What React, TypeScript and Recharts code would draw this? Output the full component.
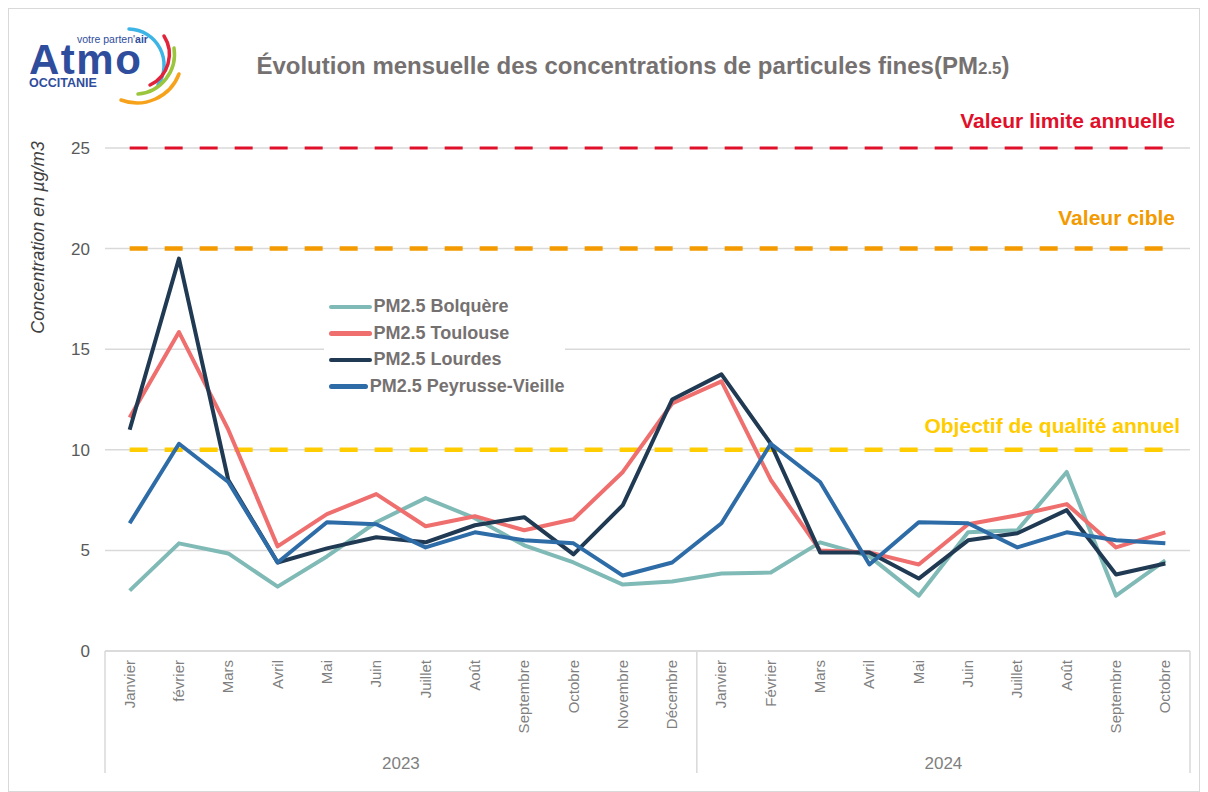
import { LineChart, Line, XAxis, YAxis, CartesianGrid, Legend, ReferenceLine } from "recharts";

const MONTHS = [
  "Janvier", "février", "Mars", "Avril", "Mai", "Juin", "Juillet", "Août",
  "Septembre", "Octobre", "Novembre", "Décembre",
  "Janvier", "Février", "Mars", "Avril", "Mai", "Juin", "Juillet", "Août",
  "Septembre", "Octobre",
];
const YEARS = [
  "2023", "2023", "2023", "2023", "2023", "2023", "2023", "2023", "2023", "2023", "2023", "2023",
  "2024", "2024", "2024", "2024", "2024", "2024", "2024", "2024", "2024", "2024",
];

const BOLQUERE = [3.0, 5.35, 4.85, 3.2, 4.7, 6.4, 7.6, 6.6, 5.25, 4.4, 3.3, 3.45, 3.85, 3.9, 5.4, 4.7, 2.75, 5.9, 6.0, 8.9, 2.75, 4.5];
const TOULOUSE = [11.6, 15.85, 11.0, 5.2, 6.8, 7.8, 6.2, 6.7, 6.0, 6.55, 8.9, 12.3, 13.4, 8.5, 5.0, 4.9, 4.3, 6.3, 6.75, 7.3, 5.15, 5.9];
const LOURDES = [11.0, 19.5, 8.5, 4.4, 5.1, 5.65, 5.4, 6.25, 6.65, 4.8, 7.25, 12.5, 13.75, 10.3, 4.9, 4.9, 3.6, 5.5, 5.85, 7.0, 3.8, 4.35];
const PEYRUSSE = [6.35, 10.3, 8.4, 4.4, 6.4, 6.3, 5.15, 5.9, 5.5, 5.35, 3.75, 4.4, 6.35, 10.3, 8.4, 4.3, 6.4, 6.35, 5.15, 5.9, 5.5, 5.35];

const LIMIT_VALUE = 25;
const TARGET_VALUE = 20;
const QUALITY_OBJECTIVE = 10;
const Y_TICKS = [0, 5, 10, 15, 20, 25];

const SERIES = [
  { key: "bolquere", name: "PM2.5 Bolquère", color: "#80bab6" },
  { key: "toulouse", name: "PM2.5 Toulouse", color: "#ef6e6e" },
  { key: "lourdes", name: "PM2.5 Lourdes", color: "#203a53" },
  { key: "peyrusse", name: "PM2.5 Peyrusse-Vieille", color: "#2e6ca7" },
];

const data = MONTHS.map((m, i) => ({
  month: m,
  year: YEARS[i],
  bolquere: BOLQUERE[i],
  toulouse: TOULOUSE[i],
  lourdes: LOURDES[i],
  peyrusse: PEYRUSSE[i],
  limit: LIMIT_VALUE,
  target: TARGET_VALUE,
  objective: QUALITY_OBJECTIVE,
}));

const NARROW = "'Liberation Sans Narrow', 'Arial Narrow', 'Liberation Sans', Arial, sans-serif";
const SANS = "'Liberation Sans', Arial, sans-serif";
const GREY = "#767171";
const GRID = "#d9d9d9";

const W = 1192;
const H = 784;
const PLOT_LEFT = 97;
const PLOT_RIGHT = 1182;
const PLOT_BOTTOM = 643;
const BAND = (PLOT_RIGHT - PLOT_LEFT) / MONTHS.length;

function MonthTick(props: any) {
  const { x, payload, index } = props;
  const i = index;
  const parts: any[] = [];
  parts.push(
    <text
      key="m"
      transform={`translate(${x},${PLOT_BOTTOM + 9}) rotate(-90)`}
      textAnchor="end"
      dy={5}
      fontSize={15}
      fontFamily={SANS}
      fill="#7f7f7f"
    >
      {payload.value}
    </text>
  );
  if (i === 0 || i === 12) {
    parts.push(<line key="l" x1={x - BAND / 2} x2={x - BAND / 2} y1={PLOT_BOTTOM} y2={PLOT_BOTTOM + 122} stroke={GRID} strokeWidth={1.5} />);
  }
  if (i === MONTHS.length - 1) {
    parts.push(<line key="r" x1={x + BAND / 2} x2={x + BAND / 2} y1={PLOT_BOTTOM} y2={PLOT_BOTTOM + 122} stroke={GRID} strokeWidth={1.5} />);
  }
  if (i === 5 || i === 16) {
    parts.push(
      <text key="y" x={x + BAND / 2} y={PLOT_BOTTOM + 118} textAnchor="middle" fontSize={17} fontFamily={NARROW} fill="#7f7f7f">
        {YEARS[i]}
      </text>
    );
  }
  return <g>{parts}</g>;
}

const thresholdLabel = (text: string, color: string, dx: number, dy: number) => (props: any) => {
  const vb = props.viewBox || {};
  return (
    <text x={vb.x + vb.width - dx} y={vb.y - dy} textAnchor="end" fontSize={21} fontWeight="bold" fontFamily={NARROW} fill={color}>
      {text}
    </text>
  );
};

function LegendBox() {
  return (
    <div style={{ background: "#fff", padding: "4px 0 4px 5px" }}>
      {SERIES.map((s) => (
        <div key={s.key} style={{ display: "flex", alignItems: "center", height: 26.6 }}>
          <div style={{ width: 43, height: 4.5, borderRadius: 3, background: s.color }} />
          <span style={{ marginLeft: 2, fontFamily: NARROW, fontWeight: "bold", fontSize: 18, color: GREY, whiteSpace: "nowrap" }}>
            {s.name}
          </span>
        </div>
      ))}
    </div>
  );
}

function Logo() {
  return (
    <g>
      <text x={69} y={35} fontSize={10.5} fontFamily={SANS} fill="#2f4d9d">
        votre parten'<tspan fontWeight="bold">air</tspan>
      </text>
      <text x={21} y={66} fontSize={42} fontWeight="bold" fontFamily={SANS} fill="#2f4d9d" letterSpacing={1.5}>
        Atmo
      </text>
      <text x={21} y={78.5} fontSize={12.5} fontWeight="bold" fontFamily={SANS} fill="#2f4d9d">
        OCCITANIE
      </text>
      <path d="M121,21 A36,36 0 0 1 150,77" fill="none" stroke="#3cb4e5" strokeWidth={3.5} strokeLinecap="round" />
      <path d="M156,28 A34,34 0 0 1 142,77" fill="none" stroke="#e2243b" strokeWidth={3.5} strokeLinecap="round" />
      <path d="M166,40 A40,40 0 0 1 130,86" fill="none" stroke="#9bc53d" strokeWidth={3.5} strokeLinecap="round" />
      <path d="M171,66 A45,45 0 0 1 113,92" fill="none" stroke="#f7a21b" strokeWidth={3.5} strokeLinecap="round" />
    </g>
  );
}

export default function App() {
  return (
    <div style={{ position: "relative", width: W, height: H, border: `1.5px solid ${GRID}`, boxSizing: "border-box", background: "#fff" }}>
      <div style={{ position: "absolute", left: -1.5, top: -1.5 }}>
        <LineChart width={W} height={H - 2} data={data} margin={{ top: 140, right: W - PLOT_RIGHT, bottom: 9, left: 47 }}>
          <CartesianGrid vertical={false} stroke={GRID} strokeWidth={1.5} />
          <XAxis
            dataKey="month"
            interval={0}
            height={130}
            tickLine={false}
            axisLine={{ stroke: GRID, strokeWidth: 1.5 }}
            padding={{ left: BAND / 2, right: BAND / 2 }}
            tick={<MonthTick />}
          />
          <YAxis
            width={50}
            domain={[0, 25]}
            ticks={Y_TICKS}
            axisLine={false}
            tickLine={false}
            tickMargin={9}
            tick={{ fill: "#595959", fontSize: 17, fontFamily: SANS }}
          />
          <ReferenceLine y={LIMIT_VALUE} stroke="none" label={thresholdLabel("Valeur limite annuelle", "#e0102a", 15, 20)} />
          <ReferenceLine y={TARGET_VALUE} stroke="none" label={thresholdLabel("Valeur cible", "#f29a00", 15, 24)} />
          <ReferenceLine y={QUALITY_OBJECTIVE} stroke="none" label={thresholdLabel("Objectif de qualité annuel", "#ffcc00", 10, 17)} />
          <Line dataKey="limit" stroke="#e0102a" strokeWidth={3} strokeDasharray="18 17" dot={false} legendType="none" isAnimationActive={false} />
          <Line dataKey="target" stroke="#f29a00" strokeWidth={4.5} strokeDasharray="18 17" dot={false} legendType="none" isAnimationActive={false} />
          <Line dataKey="objective" stroke="#ffcc00" strokeWidth={4.5} strokeDasharray="18 17" dot={false} legendType="none" isAnimationActive={false} />
          {SERIES.map((s) => (
            <Line
              key={s.key}
              dataKey={s.key}
              name={s.name}
              stroke={s.color}
              strokeWidth={4}
              strokeLinejoin="round"
              dot={false}
              isAnimationActive={false}
            />
          ))}
          <Legend
            layout="vertical"
            align="center"
            verticalAlign="middle"
            content={<LegendBox />}
            wrapperStyle={{ position: "absolute", left: 316, top: 282, width: 241, bottom: "auto", right: "auto" }}
          />
        </LineChart>
      </div>
      <svg width={W} height={H} style={{ position: "absolute", left: -1.5, top: -1.5, pointerEvents: "none" }}>
        <Logo />
        <text x={625} y={66} textAnchor="middle" fontSize={24} fontWeight="bold" fontFamily={NARROW} fill={GREY}>
          Évolution mensuelle des concentrations de particules fines(PM<tspan fontSize={17}>2.5</tspan>)
        </text>
        <text
          transform="translate(36,229.5) rotate(-90)"
          textAnchor="middle"
          fontSize={18}
          fontStyle="italic"
          fontFamily={SANS}
          fill="#404040"
        >
          Concentration en µg/m3
        </text>
      </svg>
    </div>
  );
}
